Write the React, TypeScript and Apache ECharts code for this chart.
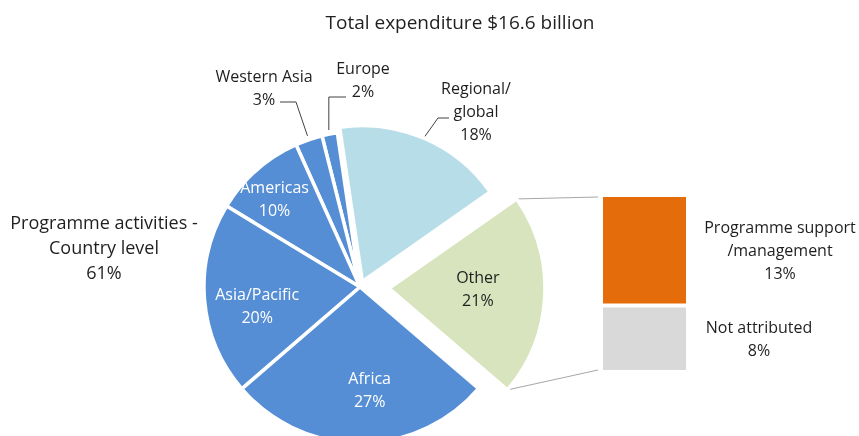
import React, { useEffect, useRef } from 'react';
import * as echarts from 'echarts';

// ---------- data ----------
const titleText = 'Total expenditure $16.6 billion';
const pieNames = ['Regional/\nglobal', 'Europe', 'Western Asia', 'Americas', 'Asia/Pacific', 'Africa'];
const pieValues = [17.6, 1.6, 2.8, 9.6, 20.0, 27.4];
const otherName = 'Other';
const barNames = ['Programme support\n/management', 'Not attributed'];
const barValues = [13.1, 7.9];
const countryLevelNames = ['Europe', 'Western Asia', 'Americas', 'Asia/Pacific', 'Africa'];
const countryLevelLabel = 'Programme activities -\nCountry level';

// ---------- layout / style ----------
const FONT = 'Open Sans';
const DARK = '#1F1F1F';
const CX = 360;
const CY = 287;
const R = 156;
const ROT = -2.8;
const OTHER_OFFSET = 29;
const REGIONAL_OFFSET = 6;
const BAR_LEFT = 601;
const BAR_TOP = 195;
const BAR_W = 87;
const BAR_H = 177;
const LABEL_SIZE = 16;
const sliceColors = ['#B7DEE8', '#558ED5', '#558ED5', '#558ED5', '#558ED5', '#558ED5', '#D7E4BD'];
const sliceLabelColors = [DARK, DARK, DARK, '#FFFFFF', '#FFFFFF', '#FFFFFF', DARK];
const barColors = ['#E46C0A', '#D9D9D9'];

const rad = (d: number) => (d * Math.PI) / 180;
const sum = (a: number[]) => a.reduce((s, v) => s + v, 0);

function buildOption() {
  const otherValue = sum(barValues);
  const names = [...pieNames, otherName];
  const values = [...pieValues, otherValue];
  const total = sum(values);
  const startAngle = (otherValue / total) * 180 + ROT;

  let cum = 0;
  const angles = values.map((v) => {
    const a0 = startAngle + (cum / total) * 360;
    cum += v;
    const a1 = startAngle + (cum / total) * 360;
    return { a0, a1, mid: (a0 + a1) / 2 };
  });
  const explode = values.map((_, i) => (i === 0 ? REGIONAL_OFFSET : i === values.length - 1 ? OTHER_OFFSET : 0));
  const centers = angles.map((a, i) => [
    CX + explode[i] * Math.cos(rad(a.mid)),
    CY - explode[i] * Math.sin(rad(a.mid)),
  ]);
  const polar = (i: number, r: number, deg: number) => [
    centers[i][0] + r * Math.cos(rad(deg)),
    centers[i][1] - r * Math.sin(rad(deg)),
  ];

  // label anchors: [radius fraction, angle tweak] for inside labels
  const insideLabel: Record<number, number[]> = { 3: [0.79, 2.4], 4: [0.67, 5.5], 5: [0.66, 5.3], 6: [0.57, 2.8] };
  const outsideAnchor: Record<number, number[]> = { 0: [476, 111], 1: [363, 79], 2: [264, 87] };
  const anchors = values.map((_, i) =>
    insideLabel[i] != null
      ? polar(i, R * insideLabel[i][0], angles[i].mid + insideLabel[i][1])
      : outsideAnchor[i]
  );

  const makePie = (idxs: number[]) => ({
    type: 'pie',
    center: centers[idxs[0]],
    radius: R,
    startAngle,
    clockwise: false,
    silent: true,
    emphasis: { disabled: true },
    labelLine: { show: false },
    label: {
      position: 'inside',
      fontFamily: FONT,
      fontSize: LABEL_SIZE,
      lineHeight: 23,
      formatter: (p: any) => `${p.name}\n${Math.round(p.value)}%`,
    },
    labelLayout: (p: any) => {
      const a = anchors[p.dataIndex];
      return { x: a[0], y: a[1], align: 'center', verticalAlign: 'middle' };
    },
    data: values.map((v, i) =>
      idxs.includes(i)
        ? {
            name: names[i],
            value: v,
            itemStyle: { color: sliceColors[i], borderColor: '#FFFFFF', borderWidth: 3.5 },
            label: { show: true, color: sliceLabelColors[i] },
          }
        : {
            name: names[i],
            value: v,
            itemStyle: { color: 'rgba(0,0,0,0)', borderWidth: 0 },
            label: { show: false },
          }
    ),
  });

  // leader lines (outside labels)
  const edge = (i: number, extra: number) => polar(i, R + extra, angles[i].mid);
  const waEnd = edge(2, 4);
  const euEnd = edge(1, 4);
  const rgEnd = edge(0, 2);
  const leaders = [
    [[280, 102], [296, 102], waEnd],
    [[346, 97], [euEnd[0], 97], euEnd],
    [[449, 118], [438, 118], rgEnd],
  ];

  // connectors from Other slice to the bar
  const oi = values.length - 1;
  const upperTip = polar(oi, R, angles[oi].a1);
  const lowerTip = polar(oi, R, angles[oi].a0);
  const connectors = [
    [upperTip, [BAR_LEFT - 3, BAR_TOP + 2]],
    [lowerTip, [BAR_LEFT - 3, BAR_TOP + BAR_H - 2]],
  ];

  const countryPct = Math.round(
    sum(countryLevelNames.map((n) => pieValues[pieNames.indexOf(n)]))
  );

  const barLabelX = [179, 158];

  return {
    animation: false,
    grid: { left: BAR_LEFT, top: BAR_TOP, width: BAR_W, height: BAR_H, containLabel: false },
    xAxis: { type: 'category', data: [otherName], show: false },
    yAxis: { type: 'value', min: 0, max: otherValue, show: false },
    series: [
      makePie([1, 2, 3, 4, 5]),
      makePie([0]),
      makePie([oi]),
      ...[1, 0].map((bi) => ({
        type: 'bar',
        name: barNames[bi],
        stack: 'other',
        barWidth: '100%',
        silent: true,
        data: [barValues[bi]],
        itemStyle: { color: barColors[bi], borderColor: '#FFFFFF', borderWidth: 2 },
        label: {
          show: true,
          position: [barLabelX[bi], '50%'],
          align: 'center',
          verticalAlign: 'middle',
          fontFamily: FONT,
          fontSize: LABEL_SIZE,
          lineHeight: 23,
          color: DARK,
          formatter: (p: any) => `${p.seriesName}\n${Math.round(p.value)}%`,
        },
      })),
    ],
    graphic: [
      {
        type: 'text',
        x: 460,
        y: 22,
        silent: true,
        style: {
          text: titleText,
          fontFamily: FONT,
          fontSize: 19,
          fill: DARK,
          align: 'center',
          verticalAlign: 'middle',
          textAlign: 'center',
          textVerticalAlign: 'middle',
        },
      },
      {
        type: 'text',
        x: 104,
        y: 247,
        silent: true,
        style: {
          text: `${countryLevelLabel}\n${countryPct}%`,
          fontFamily: FONT,
          fontSize: 18,
          lineHeight: 25,
          fill: DARK,
          align: 'center',
          verticalAlign: 'middle',
          textAlign: 'center',
          textVerticalAlign: 'middle',
        },
      },
      ...leaders.map((pts) => ({
        type: 'polyline',
        silent: true,
        shape: { points: pts },
        style: { stroke: '#404040', lineWidth: 1, fill: null },
      })),
      ...connectors.map((pts) => ({
        type: 'line',
        silent: true,
        shape: { x1: pts[0][0], y1: pts[0][1], x2: pts[1][0], y2: pts[1][1] },
        style: { stroke: '#A6A6A6', lineWidth: 1 },
      })),
    ],
  };
}

export default function App() {
  const ref = useRef<HTMLDivElement>(null);
  useEffect(() => {
    const chart = echarts.init(ref.current!, null, { renderer: 'svg' });
    chart.setOption(buildOption() as any);
    return () => chart.dispose();
  }, []);
  return (
    <div
      ref={ref}
      style={{ position: 'fixed', left: 0, top: 0, width: 859, height: 436 }}
    />
  );
}
